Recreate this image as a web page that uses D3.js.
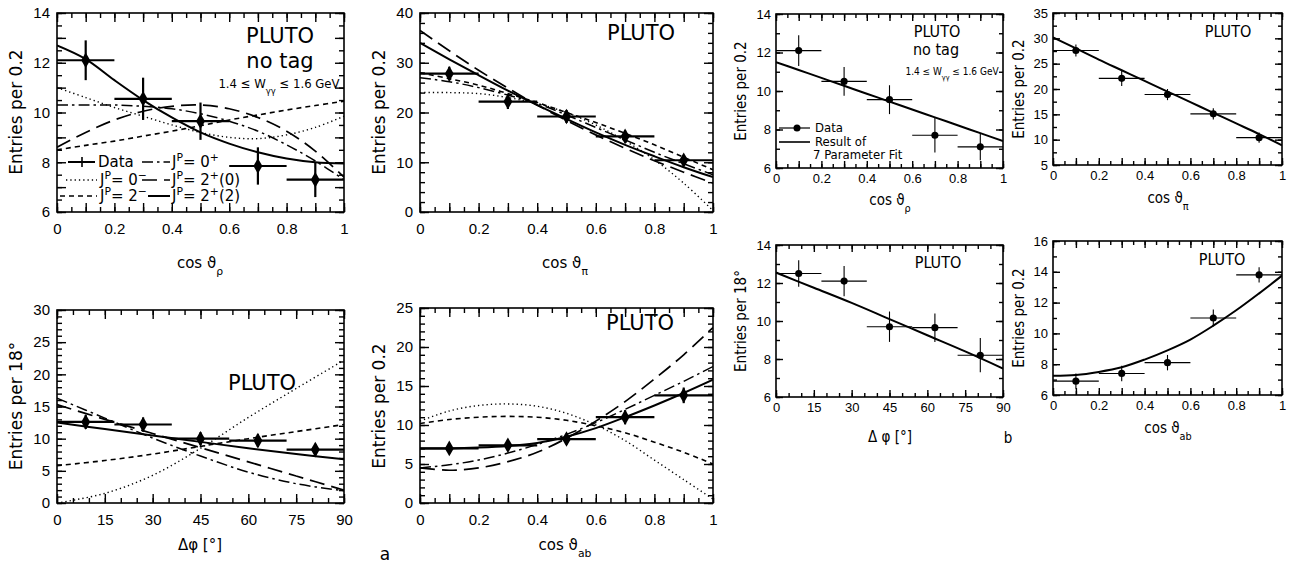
<!DOCTYPE html>
<html>
<meta charset="utf-8"/>
<head>
<title>PLUTO angular distributions</title>
<style>
  body { margin: 0; background: #fff; }
  svg { font-family: "DejaVu Sans", sans-serif; background: #fff; }
  .frame { fill: none; stroke: #000; stroke-width: 1.6px; }
  .axis path { display: none; }
  .axis line { stroke: #000; stroke-width: 1.4px; }
  .axis text { fill: #000; }
  .curve { fill: none; stroke: #000; }
  .narrow { font-family: "Liberation Sans Narrow", "DejaVu Sans Condensed", sans-serif; }
</style>
</head>
<body>
<svg width="1298" height="568"></svg>
<script src="https://d3js.org/d3.v7.min.js"></script>
<script>
// bin centres and curve sample grids
const cosBins = [0.1, 0.3, 0.5, 0.7, 0.9];
const phiBins = [9, 27, 45, 63, 81];
const cosGrid = [0, 0.1, 0.2, 0.3, 0.4, 0.5, 0.6, 0.7, 0.8, 0.9, 1];
const phiGrid = [0, 15, 30, 45, 60, 75, 90];

// --- a) cos theta_rho
const a1Data = [12.1, 10.55, 9.65, 7.85, 7.3];
const a1Err = [0.8, 0.85, 0.75, 0.75, 0.7];
const a1Solid = [12.7, 12.15, 11.3, 10.5, 9.8, 9.2, 8.75, 8.4, 8.15, 8.0, 7.95];
const a1Dotted = [11.0, 10.6, 10.2, 9.85, 9.5, 9.2, 9.0, 8.95, 9.1, 9.4, 9.85];
const a1Short = [8.5, 8.68, 8.85, 9.05, 9.25, 9.47, 9.7, 9.9, 10.1, 10.28, 10.45];
const a1Long = [8.6, 9.2, 9.7, 10.05, 10.25, 10.3, 10.15, 9.8, 9.25, 8.45, 7.4];
const a1DashDot = [10.3, 10.3, 10.3, 10.25, 10.15, 9.95, 9.65, 9.25, 8.7, 8.05, 7.3];

// --- a) cos theta_pi
const a2Data = [27.8, 22.2, 19.2, 15.2, 10.4];
const a2Err = [1.4, 1.5, 1.3, 1.2, 1.0];
const a2Solid = [34, 30.7, 27.5, 24.4, 21.5, 18.7, 16, 13.5, 11.2, 9.0, 7.0];
const a2Long = [36.5, 32.4, 28.5, 24.9, 21.5, 18.4, 15.5, 12.8, 10.3, 8.0, 5.8];
const a2Short = [28, 26.8, 25.5, 23.8, 22, 20, 18, 15.8, 13.5, 11, 8.5];
const a2DashDot = [27, 26.2, 25, 23.5, 21.8, 19.5, 17, 14.5, 12, 9.7, 7.5];
const a2Dotted = [24, 24, 23.8, 23, 21.8, 20, 17.5, 14.3, 10.5, 5.8, 0.3];

// --- a) delta phi
const a3Data = [12.6, 12.2, 10.0, 9.7, 8.3];
const a3Err = [1.1, 1.1, 1.0, 1.0, 0.9];
const a3Solid = [12.5, 11.5, 10.5, 9.5, 8.5, 7.6, 6.8];
const a3Long = [15.3, 13.0, 10.8, 8.6, 6.4, 4.2, 2.0];
const a3DashDot = [16.3, 13.2, 10.1, 7.3, 4.8, 3.0, 1.9];
const a3Short = [5.8, 6.6, 7.6, 8.8, 10.0, 11.1, 12.2];
const a3Dotted = [0, 1.5, 4.3, 8.5, 13.3, 17.8, 22.2];

// --- a) cos theta_ab
const a4Data = [7.0, 7.4, 8.2, 11.0, 13.8];
const a4Err = [0.6, 0.7, 0.7, 0.9, 1.0];
const a4Solid = [7.0, 7.0, 7.1, 7.3, 7.7, 8.5, 9.6, 11.0, 12.5, 14.1, 15.8];
const a4Long = [4.5, 4.2, 4.5, 5.3, 6.5, 8.3, 10.5, 13, 15.9, 19, 22.5];
const a4DashDot = [4.5, 4.9, 5.5, 6.4, 7.5, 8.8, 10.3, 12, 13.8, 15.6, 17.5];
const a4Short = [10.2, 10.7, 11.0, 11.1, 11.0, 10.6, 9.9, 9.0, 7.8, 6.5, 5.0];
const a4Dotted = [10.5, 11.8, 12.5, 12.7, 12.4, 11.5, 10.0, 8.0, 5.5, 3.0, 0.5];

// --- b) 7 parameter fit
const b1Data = [12.1, 10.5, 9.55, 7.7, 7.1];
const b1Err = [0.8, 0.75, 0.75, 0.9, 0.7];
const b1Fit = [11.5, 11.09, 10.68, 10.27, 9.86, 9.45, 9.04, 8.63, 8.22, 7.81, 7.4];
const b2Data = [27.6, 22.1, 18.9, 15.1, 10.4];
const b2Err = [1.2, 1.5, 1.1, 1.1, 1.0];
const b2Fit = [30.2, 28.0, 25.8, 23.7, 21.6, 19.5, 17.4, 15.3, 13.2, 11.1, 8.9];
const b3Data = [12.5, 12.1, 9.7, 9.65, 8.2];
const b3Err = [0.7, 0.8, 0.8, 0.75, 0.9];
const b3Fit = [12.55, 11.75, 10.95, 10.1, 9.25, 8.4, 7.5];
const b4Data = [6.9, 7.4, 8.1, 11.0, 13.8];
const b4Err = [0.5, 0.5, 0.5, 0.55, 0.5];
const b4Fit = [7.25, 7.3, 7.5, 7.8, 8.3, 8.9, 9.6, 10.5, 11.5, 12.6, 13.75];

const styles = {
  solid:   { dash: null,         w: 2.0 },
  dotted:  { dash: "1.3,3",      w: 1.4 },
  short:   { dash: "5,4",        w: 1.6 },
  long:    { dash: "15,7",       w: 1.7 },
  dashdot: { dash: "11,4,2.5,4", w: 1.5 }
};

const svg = d3.select("svg");
let clipId = 0;

function steps(a, b, s) {
  return d3.range(Math.round((b - a) / s) + 1).map(i => +(a + i * s).toFixed(4));
}

function panel(p) {
  const [x0, y0, x1, y1] = p.box;
  const x = d3.scaleLinear().domain(p.xDom).range([x0, x1]);
  const y = d3.scaleLinear().domain(p.yDom).range([y1, y0]);
  const g = svg.append("g").attr("class", p.narrow ? "narrow" : null);
  const fs = p.fontSize;

  const xMaj = steps(p.xDom[0], p.xDom[1], p.xMajor);
  const xMin = steps(p.xDom[0], p.xDom[1], p.xMinor);
  const yMaj = steps(p.yDom[0], p.yDom[1], p.yMajor);
  const yMin = steps(p.yDom[0], p.yDom[1], p.yMinor);
  const xLab = steps(p.xDom[0], p.xDom[1], p.xLabel);
  const yLab = steps(p.yDom[0], p.yDom[1], p.yLabel);

  const addAxis = (axis, tx, ty, vals, len, labels) => {
    const a = g.append("g").attr("class", "axis")
      .attr("transform", `translate(${tx},${ty})`)
      .call(axis.tickValues(vals).tickSize(-len).tickPadding(p.pad)
        .tickFormat(labels ? p.fmt : ""));
    a.selectAll("text").style("font-size", fs + "px");
    return a;
  };
  // inward ticks on all four sides
  addAxis(d3.axisBottom(x), 0, y1, xMin, p.minLen, false);
  addAxis(d3.axisBottom(x), 0, y1, xMaj, p.majLen, false);
  addAxis(d3.axisTop(x), 0, y0, xMin, p.minLen, false);
  addAxis(d3.axisTop(x), 0, y0, xMaj, p.majLen, false);
  addAxis(d3.axisLeft(y), x0, 0, yMin, p.minLen, false);
  addAxis(d3.axisLeft(y), x0, 0, yMaj, p.majLen, false);
  addAxis(d3.axisRight(y), x1, 0, yMin, p.minLen, false);
  addAxis(d3.axisRight(y), x1, 0, yMaj, p.majLen, false);
  // labels only
  const lx = addAxis(d3.axisBottom(x), 0, y1, xLab, 0, true);
  lx.selectAll("line").remove();
  lx.selectAll("text").attr("y", p.xPad);
  const ly = addAxis(d3.axisLeft(y), x0, 0, yLab, 0, true);
  ly.selectAll("line").remove();

  g.append("rect").attr("class", "frame")
    .attr("x", x0).attr("y", y0).attr("width", x1 - x0).attr("height", y1 - y0);

  const cid = "clip" + (clipId++);
  svg.append("clipPath").attr("id", cid).append("rect")
    .attr("x", x0).attr("y", y0).attr("width", x1 - x0).attr("height", y1 - y0);

  const line = d3.line().x(d => x(d[0])).y(d => y(d[1]))
    .curve(d3.curveCatmullRom.alpha(0.5));
  const cg = g.append("g").attr("clip-path", `url(#${cid})`);
  p.curves.forEach(c => {
    const st = styles[c.style];
    cg.append("path").attr("class", "curve")
      .attr("d", line(c.xs.map((v, i) => [v, c.ys[i]])))
      .attr("stroke-width", st.w)
      .attr("stroke-dasharray", st.dash);
  });

  const pts = p.xs.map((v, i) => ({ x: v, y: p.ys[i], e: p.err[i] }));
  const pg = g.append("g");
  pg.selectAll("line.h").data(pts).join("line")
    .attr("x1", d => x(d.x - p.xErr)).attr("x2", d => x(d.x + p.xErr))
    .attr("y1", d => y(d.y)).attr("y2", d => y(d.y))
    .attr("stroke", "#000").attr("stroke-width", p.barW);
  pg.selectAll("line.v").data(pts).join("line")
    .attr("x1", d => x(d.x)).attr("x2", d => x(d.x))
    .attr("y1", d => y(d.y - d.e)).attr("y2", d => y(d.y + d.e))
    .attr("stroke", "#000").attr("stroke-width", p.barW);
  pg.selectAll("path.m").data(pts).join("path")
    .attr("transform", d => `translate(${x(d.x)},${y(d.y)})`)
    .attr("d", d3.symbol(p.marker === "diamond" ? d3.symbolDiamond : d3.symbolCircle, p.markerSize)())
    .attr("fill", "#000");
  return { x, y };
}

function txt(x, y, parts, opts = {}) {
  const t = svg.append("text").attr("x", x).attr("y", y)
    .attr("text-anchor", opts.anchor || "middle")
    .style("font-size", (opts.size || 15) + "px");
  if (opts.cls) t.attr("class", opts.cls);
  if (opts.rotate) t.attr("transform", `rotate(-90,${x},${y})`);
  parts.forEach(pt => {
    if (typeof pt === "string") t.append("tspan").text(pt);
    else {
      const s = t.append("tspan").text(pt.t).style("font-size", (opts.size || 15) * 0.72 + "px");
      s.attr("baseline-shift", pt.sup ? "super" : "sub");
    }
  });
  return t;
}

const fmtA = d => d3.format("")(d);

const aBase = { fontSize: 15, pad: 7, xPad: 11, majLen: 9, minLen: 5, marker: "diamond", markerSize: 70, barW: 2.2, fmt: fmtA };
const bBase = { fontSize: 13, pad: 5, xPad: 6, majLen: 7, minLen: 4, marker: "circle", markerSize: 40, barW: 1.1, fmt: fmtA, narrow: true };

panel(Object.assign({}, aBase, {
  box: [57, 13, 344, 212], xDom: [0, 1], yDom: [6, 14],
  xMajor: 0.1, xMinor: 0.05, xLabel: 0.2, yMajor: 1, yMinor: 0.5, yLabel: 2,
  xs: cosBins, ys: a1Data, err: a1Err, xErr: 0.1,
  curves: [
    { xs: cosGrid, ys: a1Dotted, style: "dotted" },
    { xs: cosGrid, ys: a1Short, style: "short" },
    { xs: cosGrid, ys: a1Long, style: "long" },
    { xs: cosGrid, ys: a1DashDot, style: "dashdot" },
    { xs: cosGrid, ys: a1Solid, style: "solid" }
  ]
}));
panel(Object.assign({}, aBase, {
  box: [420, 13, 713, 212], xDom: [0, 1], yDom: [0, 40],
  xMajor: 0.1, xMinor: 0.05, xLabel: 0.2, yMajor: 10, yMinor: 2, yLabel: 10,
  xs: cosBins, ys: a2Data, err: a2Err, xErr: 0.1,
  curves: [
    { xs: cosGrid, ys: a2Dotted, style: "dotted" },
    { xs: cosGrid, ys: a2Short, style: "short" },
    { xs: cosGrid, ys: a2Long, style: "long" },
    { xs: cosGrid, ys: a2DashDot, style: "dashdot" },
    { xs: cosGrid, ys: a2Solid, style: "solid" }
  ]
}));
panel(Object.assign({}, aBase, {
  box: [57, 310, 344, 503], xDom: [0, 90], yDom: [0, 30],
  xMajor: 15, xMinor: 5, xLabel: 15, yMajor: 5, yMinor: 1, yLabel: 5,
  xs: phiBins, ys: a3Data, err: a3Err, xErr: 9,
  curves: [
    { xs: phiGrid, ys: a3Dotted, style: "dotted" },
    { xs: phiGrid, ys: a3Short, style: "short" },
    { xs: phiGrid, ys: a3Long, style: "long" },
    { xs: phiGrid, ys: a3DashDot, style: "dashdot" },
    { xs: phiGrid, ys: a3Solid, style: "solid" }
  ]
}));
panel(Object.assign({}, aBase, {
  box: [420, 308, 713, 503], xDom: [0, 1], yDom: [0, 25],
  xMajor: 0.1, xMinor: 0.05, xLabel: 0.2, yMajor: 5, yMinor: 1, yLabel: 5,
  xs: cosBins, ys: a4Data, err: a4Err, xErr: 0.1,
  curves: [
    { xs: cosGrid, ys: a4Dotted, style: "dotted" },
    { xs: cosGrid, ys: a4Short, style: "short" },
    { xs: cosGrid, ys: a4Long, style: "long" },
    { xs: cosGrid, ys: a4DashDot, style: "dashdot" },
    { xs: cosGrid, ys: a4Solid, style: "solid" }
  ]
}));

panel(Object.assign({}, bBase, {
  box: [776, 14, 1003, 168], xDom: [0, 1], yDom: [6, 14],
  xMajor: 0.1, xMinor: 0.05, xLabel: 0.2, yMajor: 2, yMinor: 1, yLabel: 2,
  xs: cosBins, ys: b1Data, err: b1Err, xErr: 0.1,
  curves: [{ xs: cosGrid, ys: b1Fit, style: "solid" }]
}));
panel(Object.assign({}, bBase, {
  box: [1053, 13, 1282, 165], xDom: [0, 1], yDom: [5, 35],
  xMajor: 0.1, xMinor: 0.05, xLabel: 0.2, yMajor: 5, yMinor: 2.5, yLabel: 5,
  xs: cosBins, ys: b2Data, err: b2Err, xErr: 0.1,
  curves: [{ xs: cosGrid, ys: b2Fit, style: "solid" }]
}));
panel(Object.assign({}, bBase, {
  box: [776, 245, 1003, 397], xDom: [0, 90], yDom: [6, 14],
  xMajor: 15, xMinor: 5, xLabel: 15, yMajor: 2, yMinor: 1, yLabel: 2,
  xs: phiBins, ys: b3Data, err: b3Err, xErr: 9,
  curves: [{ xs: phiGrid, ys: b3Fit, style: "solid" }]
}));
panel(Object.assign({}, bBase, {
  box: [1053, 241, 1282, 395], xDom: [0, 1], yDom: [6, 16],
  xMajor: 0.1, xMinor: 0.05, xLabel: 0.2, yMajor: 2, yMinor: 1, yLabel: 2,
  xs: cosBins, ys: b4Data, err: b4Err, xErr: 0.1,
  curves: [{ xs: cosGrid, ys: b4Fit, style: "solid" }]
}));

// axis titles, panel a
txt(200, 268, ["cos  ϑ", { t: "ρ" }], { size: 15 });
txt(565, 268, ["cos  ϑ", { t: "π" }], { size: 15 });
txt(200, 550, ["Δφ  [°]"], { size: 15 });
txt(565, 550, ["cos  ϑ", { t: "ab" }], { size: 15 });
txt(22, 112, ["Entries  per 0.2"], { size: 17, rotate: true });
txt(385, 112, ["Entries  per 0.2"], { size: 17, rotate: true });
txt(22, 406, ["Entries  per 18°"], { size: 17, rotate: true });
txt(385, 406, ["Entries  per 0.2"], { size: 17, rotate: true });
txt(385, 560, ["a"], { size: 17 });

// panel a annotations
txt(280, 43, ["PLUTO"], { size: 21 });
txt(280, 68, ["no tag"], { size: 21 });
txt(279, 88, ["1.4 ≤ W", { t: "γγ" }, " ≤ 1.6 GeV"], { size: 13, cls: "narrow" });
txt(641, 40, ["PLUTO"], { size: 21 });
txt(262, 390, ["PLUTO"], { size: 21 });
txt(640, 330, ["PLUTO"], { size: 21 });

// legend, panel a1
const legRows = [162, 180, 196];
const legLine = (xa, xb, yy, style) => {
  const st = styles[style];
  svg.append("line").attr("x1", xa).attr("x2", xb).attr("y1", yy).attr("y2", yy)
    .attr("stroke", "#000").attr("stroke-width", st.w).attr("stroke-dasharray", st.dash);
};
legLine(68, 95, legRows[0], "solid");
svg.append("line").attr("x1", 82).attr("x2", 82).attr("y1", legRows[0] - 5).attr("y2", legRows[0] + 5)
  .attr("stroke", "#000").attr("stroke-width", 1.6);
txt(98, legRows[0] + 5, ["Data"], { anchor: "start", size: 15 });
legLine(66, 97, legRows[1], "dotted");
txt(100, legRows[1] + 5, ["J", { t: "P", sup: true }, "= 0", { t: "−", sup: true }], { anchor: "start", size: 15 });
legLine(60, 97, legRows[2], "short");
txt(100, legRows[2] + 5, ["J", { t: "P", sup: true }, "= 2", { t: "−", sup: true }], { anchor: "start", size: 15 });
legLine(142, 170, legRows[0], "dashdot");
txt(172, legRows[0] + 5, ["J", { t: "P", sup: true }, "= 0", { t: "+", sup: true }], { anchor: "start", size: 15 });
legLine(142, 170, legRows[1], "long");
txt(172, legRows[1] + 5, ["J", { t: "P", sup: true }, "= 2", { t: "+", sup: true }, "(0)"], { anchor: "start", size: 15 });
legLine(148, 170, legRows[2], "solid");
txt(172, legRows[2] + 5, ["J", { t: "P", sup: true }, "= 2", { t: "+", sup: true }, "(2)"], { anchor: "start", size: 15 });

// axis titles, panel b
const nb = "narrow";
txt(890, 205, ["cos ϑ", { t: "ρ" }], { size: 15, cls: nb });
txt(1168, 203, ["cos ϑ", { t: "π" }], { size: 15, cls: nb });
txt(890, 442, ["Δ φ [°]"], { size: 15, cls: nb });
txt(1168, 433, ["cos ϑ", { t: "ab" }], { size: 15, cls: nb });
txt(746, 91, ["Entries per 0.2"], { size: 15, rotate: true, cls: nb });
txt(1024, 89, ["Entries per 0.2"], { size: 15, rotate: true, cls: nb });
txt(746, 321, ["Entries per 18°"], { size: 15, rotate: true, cls: nb });
txt(1024, 318, ["Entries per 0.2"], { size: 15, rotate: true, cls: nb });
txt(1008, 443, ["b"], { size: 15, cls: nb });

txt(937, 37, ["PLUTO"], { size: 16, cls: nb });
txt(936, 55, ["no tag"], { size: 16, cls: nb });
txt(952, 75, ["1.4 ≤ W", { t: "γγ" }, " ≤ 1.6 GeV"], { size: 10, cls: nb });
txt(1228, 37, ["PLUTO"], { size: 16, cls: nb });
txt(938, 268, ["PLUTO"], { size: 16, cls: nb });
txt(1222, 265, ["PLUTO"], { size: 16, cls: nb });

// legend, panel b1
svg.append("line").attr("x1", 779).attr("x2", 810).attr("y1", 128).attr("y2", 128)
  .attr("stroke", "#000").attr("stroke-width", 1.2);
svg.append("circle").attr("cx", 797).attr("cy", 128).attr("r", 3.5).attr("fill", "#000");
txt(815, 132, ["Data"], { anchor: "start", size: 13, cls: nb });
svg.append("line").attr("x1", 779).attr("x2", 810).attr("y1", 142).attr("y2", 142)
  .attr("stroke", "#000").attr("stroke-width", 1.6);
txt(815, 146, ["Result of"], { anchor: "start", size: 13, cls: nb });
txt(813, 159, ["7 Parameter Fit"], { anchor: "start", size: 13, cls: nb });
</script>
</body>
</html>
